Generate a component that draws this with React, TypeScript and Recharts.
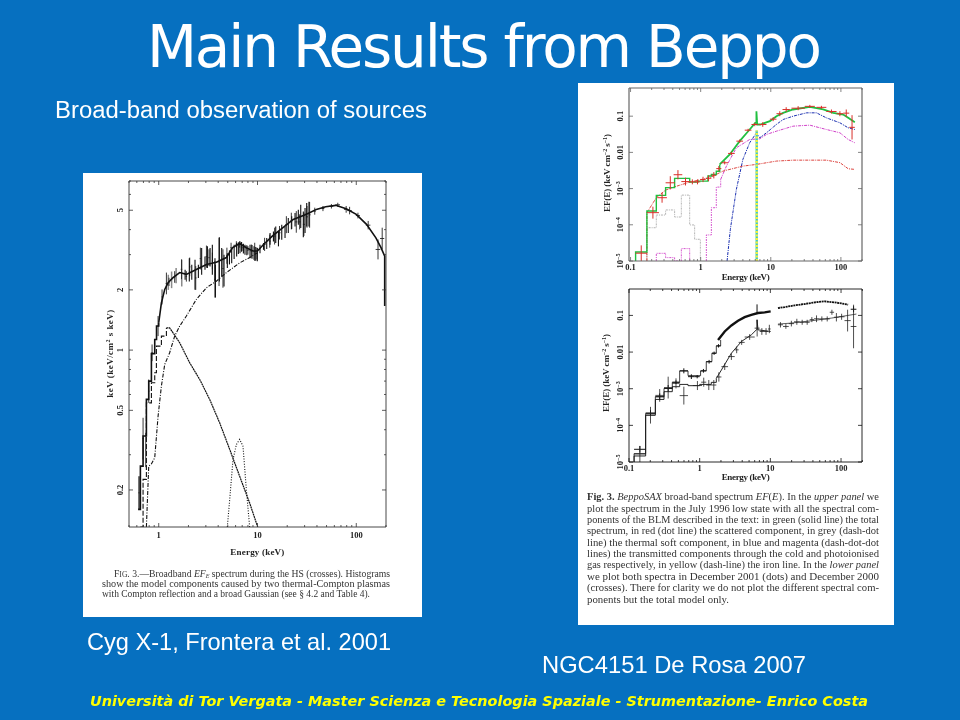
import React from 'react';
import { ComposedChart, Line, Scatter, XAxis, YAxis, ErrorBar } from 'recharts';

// ---- Cyg X-1 (Frontera et al. 2001) ----
const CYG_X_TICKS = [0.5, 0.6, 0.7, 0.8, 0.9, 1, 2, 3, 4, 5, 6, 7, 8, 9, 10, 20, 30, 40, 50, 60, 70, 80, 90, 100, 200];
const CYG_X_MAJOR = [1, 10, 100];
const CYG_Y_TICKS = [0.2, 0.3, 0.4, 0.5, 0.6, 0.7, 0.8, 0.9, 1, 2, 3, 4, 5, 6, 7];
const CYG_Y_MAJOR = [0.2, 0.5, 1, 2, 5];

const cygHistE = [0.618, 0.652, 0.694, 0.75, 0.792, 0.843, 0.911, 0.95, 1.0];
const cygHistF = [0.16, 0.263, 0.372, 0.567, 0.7, 0.96, 1.13, 1.32, 1.37];
const cygTotalE = [1.0, 1.064, 1.15, 1.243, 1.396, 1.63, 1.905, 2.4, 3.04, 3.83, 4.84, 5.6, 6.6, 7.7, 9.0, 10, 11.5, 14.2, 18.1, 23, 30, 33.7, 39.4, 49, 62, 79, 100, 127, 158, 178, 194, 194];
const cygTotalF = [1.37, 1.72, 2.01, 2.17, 2.3, 2.44, 2.39, 2.53, 2.68, 2.75, 2.9, 3.25, 3.41, 3.25, 3.13, 3.13, 3.37, 3.72, 4.09, 4.5, 4.73, 4.86, 5.05, 5.21, 5.29, 5.09, 4.77, 4.25, 3.64, 3.25, 2.95, 1.66];
const cygCompE = [0.75, 0.792, 0.843, 0.911, 0.985, 1.064, 1.15, 1.29, 1.45, 1.63, 1.905, 2.4, 3.04, 3.83, 4.84, 6.6, 8.33, 10];
const cygCompF = [0.1306, 0.263, 0.27, 0.29, 0.468, 0.661, 0.848, 0.97, 1.175, 1.318, 1.48, 1.79, 2.05, 2.21, 2.44, 2.73, 2.9, 3.07];
const cygSoftHistE = [0.652, 0.694, 0.75, 0.843, 0.911, 0.947, 1.064, 1.196];
const cygSoftHistF = [0.1306, 0.226, 0.545, 0.687, 0.77, 1.047, 1.175, 1.29];
const cygSoftE = [1.196, 1.29, 1.396, 1.63, 2.06, 2.6, 3.28, 4.14, 5.23, 6.6, 8.33, 10.05];
const cygSoftF = [1.29, 1.29, 1.22, 1.088, 0.864, 0.713, 0.567, 0.433, 0.319, 0.234, 0.172, 0.1306];
const cygLineE = [4.95, 5.23, 5.65, 6.11, 6.6, 7.13, 7.71, 8.33];
const cygLineF = [0.1306, 0.179, 0.284, 0.337, 0.358, 0.331, 0.201, 0.1306];

const hsEnergy = [0.632, 0.694, 0.739, 0.792, 0.856, 0.985, 1.08, 1.196, 1.27, 1.45, 1.7, 1.905, 2.06, 2.37, 2.64, 3.04, 3.23, 3.49, 3.71, 4.08, 4.47, 4.9, 5.4, 6.11, 6.6, 7.13, 8.0, 8.66, 9.37, 9.88, 11.8, 13.3, 14.9, 16.7, 19.6, 22.0, 24.7, 26.7, 29.5, 31.7, 33.7, 38, 46, 56, 65, 79, 85.6, 104, 132, 166, 183];
const hsHalfWidth = [0.01, 0.01, 0.012, 0.012, 0.014, 0.015, 0.017, 0.02, 0.02, 0.025, 0.03, 0.03, 0.035, 0.04, 0.04, 0.05, 0.05, 0.05, 0.06, 0.06, 0.07, 0.08, 0.08, 0.1, 0.1, 0.12, 0.12, 0.14, 0.15, 0.15, 0.3, 0.3, 0.35, 0.4, 0.5, 0.5, 0.6, 0.6, 0.7, 0.8, 0.8, 1, 1.5, 2.5, 3.5, 4, 4.5, 5, 7, 9, 9];
const hsLow = [0.16, 0.284, 0.26, 0.545, 0.881, 1.175, 1.69, 1.9, 2.09, 2.17, 2.26, 2.2, 2.34, 2.0, 2.53, 2.58, 2.63, 2.53, 1.83, 2.09, 2.05, 2.7, 3.07, 3.25, 3.25, 3.13, 3.0, 2.9, 2.79, 2.84, 3.13, 3.25, 3.37, 3.57, 3.84, 4.01, 3.86, 4.01, 3.72, 4.09, 4.09, 4.75, 4.95, 5.1, 5.2, 4.86, 4.77, 4.55, 4.01, 2.84, 3.19];
const hsHigh = [0.234, 0.459, 0.386, 0.713, 1.067, 1.48, 2.01, 2.44, 2.3, 2.48, 2.84, 2.48, 2.9, 2.63, 3.25, 3.33, 3.19, 3.07, 2.79, 3.64, 3.19, 3.25, 3.44, 3.5, 3.5, 3.37, 3.31, 3.37, 3.44, 3.25, 3.64, 3.78, 4.09, 4.17, 4.67, 4.86, 4.95, 4.77, 4.86, 5.25, 5.5, 5.15, 5.25, 5.37, 5.45, 5.25, 5.2, 4.86, 4.42, 3.57, 4.09];

// 저에너지 쪽 회색으로 번진 막대
const greyEnergy = [0.632, 1.25, 1.35, 1.5, 1.71];
const greyLow = [0.16, 2.0, 2.04, 2.16, 2.08];
const greyHigh = [0.234, 2.38, 2.47, 2.57, 2.83];

// 2–35 keV 빽빽한 구간
const denseEnergy = [1.85, 2.04, 2.16, 2.33, 2.52, 2.72, 2.94, 3.11, 3.31, 3.49, 3.71, 3.75, 4.11, 4.34, 4.58, 4.95, 5.2, 5.48, 5.8, 6.15, 6.4, 6.65, 6.9, 7.2, 7.47, 7.8, 8.4, 8.8, 9.22, 9.6, 9.96, 10.6, 11.5, 12.4, 13.4, 14.5, 15.3, 16.3, 17.6, 19, 20.5, 22.2, 24, 25.9, 27.4, 29.1, 30.3, 31.5, 33.2];
const denseLow = [2.25, 2.2, 2.25, 2.0, 2.29, 2.38, 2.52, 2.57, 2.62, 2.38, 2.2, 1.83, 2.2, 2.34, 2.08, 2.57, 2.68, 2.72, 2.85, 2.94, 3.02, 3.05, 3.1, 3.04, 3.0, 2.98, 2.88, 2.86, 2.83, 2.8, 2.78, 3.05, 3.17, 3.2, 3.36, 3.49, 3.43, 3.3, 3.56, 3.63, 3.85, 4.03, 4.15, 4.23, 4.07, 3.66, 3.85, 4.15, 4.15];
const denseHigh = [2.52, 2.88, 2.67, 2.83, 2.67, 3.24, 2.94, 3.3, 3.24, 3.36, 2.88, 2.67, 3.66, 3.24, 3.0, 3.05, 3.15, 3.24, 3.36, 3.43, 3.46, 3.49, 3.47, 3.4, 3.36, 3.34, 3.36, 3.35, 3.3, 3.28, 3.24, 3.36, 3.43, 3.63, 3.85, 3.92, 4.15, 3.92, 4.23, 4.15, 4.57, 4.66, 4.84, 5.03, 5.33, 4.93, 5.13, 5.43, 5.52];

// ---- NGC4151 (De Rosa 2007) ----
const NGC_X_TICKS = [0.1, 0.2, 0.3, 0.4, 0.5, 0.6, 0.7, 0.8, 0.9, 1, 2, 3, 4, 5, 6, 7, 8, 9, 10, 20, 30, 40, 50, 60, 70, 80, 90, 100, 200];
const NGC_X_MAJOR = [0.1, 1, 10, 100];
const NGC_Y_TICKS = [1e-5, 1e-4, 1e-3, 0.01, 0.1];

const totalLowE = [0.118, 0.118, 0.171, 0.233, 0.316, 0.425, 0.53, 0.697, 0.916, 1.27, 1.42, 1.67, 1.87];
const totalLowF = [1e-5, 1.78e-5, 2.4e-4, 6.5e-4, 1.06e-3, 1.91e-3, 1.91e-3, 1.51e-3, 1.61e-3, 2.22e-3, 2.46e-3, 3.0e-3, 4.65e-3];
const totalHighE = [1.87, 2.6, 3.6, 5.0, 6.0, 6.24, 6.24, 6.4, 7.1, 9.7, 12.05, 15, 20.8, 36, 56, 77.6, 108, 127, 158];
const totalHighF = [4.65e-3, 8.77e-3, 0.0205, 0.0429, 0.0655, 0.0655, 0.137, 0.0589, 0.0589, 0.0728, 0.1, 0.1236, 0.153, 0.181, 0.153, 0.1236, 0.111, 0.09, 0.0684];
const scatteredE = [0.171, 0.171, 0.233, 0.316, 0.425, 0.697, 1.35, 2.08, 4.0, 6.24, 12.05, 20.8, 36, 62, 97, 127, 158];
const scatteredF = [1e-5, 2.16e-4, 5.6e-4, 9.1e-4, 1.12e-3, 1.51e-3, 2e-3, 3.04e-3, 4.18e-3, 4.65e-3, 5.75e-3, 6.1e-3, 6.1e-3, 6.1e-3, 5.2e-3, 3.53e-3, 3.39e-3];
const softE = [0.171, 0.171, 0.233, 0.316, 0.425, 0.53, 0.697, 0.82, 0.99];
const softF = [1e-5, 8.3e-5, 1.86e-4, 2.57e-4, 1.64e-4, 6.6e-4, 9.9e-5, 3.98e-5, 1e-5];
const magentaLowE = [0.233, 0.233, 0.316, 0.425, 0.53, 0.697];
const magentaLowF = [1e-5, 1.63e-5, 1.24e-5, 1e-5, 2.2e-5, 1e-5];
const magentaHistE = [1.205, 1.205, 1.42, 1.67, 1.93];
const magentaHistF = [1e-5, 5.25e-5, 2.96e-4, 1.1e-3, 1.8e-3];
const magentaE = [1.93, 2.33, 3.23, 5, 6.96, 8.67, 12.05, 20.8, 36, 62, 97, 127, 158];
const magentaF = [1.8e-3, 4.18e-3, 0.0134, 0.0227, 0.0237, 0.0313, 0.0385, 0.053, 0.0565, 0.0429, 0.0347, 0.0227, 0.0184];
const blueE = [2.38, 2.65, 3.23, 4, 5, 6.24, 6.96, 8.67, 12, 15, 20.8, 32.4, 44.9, 62, 97, 127, 158];
const blueF = [1e-5, 7.5e-5, 9.5e-4, 6.4e-3, 0.0184, 0.0347, 0.0253, 0.0347, 0.0589, 0.0809, 0.1, 0.1236, 0.1236, 0.09, 0.0655, 0.0477, 0.0429];
const ironE = [6.3, 6.3];
const ironF = [1e-5, 0.04];

const jul96ELow = [0.118, 0.171, 0.24, 0.316, 0.411, 0.53, 0.681, 0.82, 0.989, 1.18, 1.42, 1.67, 1.97, 2.46, 3.23, 4.25, 5.3, 6.81, 9.7, 12.05, 14.7, 19.7, 30.6, 44.9, 62, 86.7, 108, 131.6];
const jul96EHigh = [0.171, 0.254, 0.33, 0.43, 0.547, 0.697, 0.849, 0.989, 1.18, 1.42, 1.67, 1.97, 2.46, 3.06, 4.02, 5.3, 6.59, 8.67, 12.05, 15, 18.7, 30.6, 42.5, 62, 86.7, 108, 131.6, 158];
const jul96FLow = [1e-5, 1.48e-4, 4.07e-4, 9.5e-4, 1.8e-3, 1.22e-3, 1.31e-3, 1.31e-3, 1.51e-3, 1.61e-3, 1.91e-3, 3.04e-3, 4.65e-3, 8.4e-3, 0.0184, 0.0377, 0.053, 0.0508, 0.0728, 0.1, 0.1315, 0.146, 0.17, 0.159, 0.1185, 0.1, 0.096, 0.0227];
const jul96FHigh = [2.7e-5, 3.16e-4, 7.7e-4, 2.2e-3, 3.24e-3, 2e-3, 1.8e-3, 1.8e-3, 2.12e-3, 2.31e-3, 2.86e-3, 4.18e-3, 5.75e-3, 0.0104, 0.0227, 0.0448, 0.0655, 0.0684, 0.0938, 0.137, 0.177, 0.189, 0.205, 0.193, 0.153, 0.137, 0.153, 0.1066];

const upperModelE = [0.118, 0.118, 0.172, 0.236, 0.313, 0.41, 0.521, 0.684, 1.03, 1.24, 1.49, 1.72, 1.98];
const upperModelF = [1e-5, 1.69e-5, 2.11e-4, 6.04e-4, 1.02e-3, 1.49e-3, 3.05e-3, 2.27e-3, 3.05e-3, 5.5e-3, 9.3e-3, 0.01475, 0.0215];
const lowerHistE = [0.118, 0.118, 0.172, 0.236, 0.313, 0.41, 0.521, 0.684, 1, 1.46, 1.72];
const lowerHistF = [1e-5, 1.46e-5, 1.9e-4, 5.1e-4, 8.3e-4, 1.135e-3, 1.31e-3, 1.21e-3, 1.31e-3, 1.49e-3, 1.92e-3];
const lowerModelE = [1.72, 2.03, 2.81, 3.89, 5.38, 6.34, 6.48, 6.48, 6.69, 10.1];
const lowerModelF = [1.92e-3, 3.24e-3, 9.3e-3, 0.0194, 0.0295, 0.0404, 0.0404, 0.076, 0.0404, 0.0365];
const lowerHighE = [12.8, 19.8, 38, 73, 165];
const lowerHighF = [0.058, 0.0617, 0.0714, 0.0845, 0.109];

const dec01E = [1.82, 2.26, 2.81, 3.49, 4.33, 5.38, 6.69, 8.31, 10.1];
const dec01F = [0.0215, 0.0365, 0.0532, 0.0714, 0.09, 0.104, 0.116, 0.121, 0.129];
const dec01HighE = [12.8, 16, 22.1, 30.6, 42.4, 58.7, 81.3, 101, 126];
const dec01HighF = [0.159, 0.169, 0.188, 0.205, 0.227, 0.242, 0.227, 0.213, 0.196];
const dec01SpikeE = [6.48, 6.48];
const dec01SpikeF = [0.116, 0.2];

const dec01ELow = [0.118, 0.172, 0.236, 0.313, 0.41, 0.521, 0.684, 0.85, 1.03, 1.24, 1.49, 1.72, 137];
const dec01EHigh = [0.172, 0.236, 0.313, 0.41, 0.521, 0.684, 0.85, 1, 1.24, 1.49, 1.72, 1.98, 165];
const dec01FLow = [1.8e-5, 1.82e-4, 4.89e-4, 8.3e-4, 1.34e-3, 2.63e-3, 1.84e-3, 1.92e-3, 2.74e-3, 4.84e-3, 8.4e-3, 0.0133, 0.122];
const dec01FHigh = [2.74e-5, 2.6e-4, 7.45e-4, 1.26e-3, 1.69e-3, 3.6e-3, 2.47e-3, 2.36e-3, 3.46e-3, 6.1e-3, 0.0103, 0.0164, 0.178];

const dec00ELow = [0.118, 0.172, 0.236, 0.313, 0.41, 0.521, 0.8, 1.05, 1.24, 1.46, 1.72, 2.03, 2.52, 3.13, 3.56, 4.33, 5.99, 7.06, 8.14, 9.27, 12.8, 15.1, 18.2, 21.6, 26, 30.6, 36, 41.5, 48.8, 58.7, 69.2, 79.7, 92.8, 112, 137];
const dec00EHigh = [0.172, 0.236, 0.313, 0.41, 0.521, 0.684, 1.08, 1.24, 1.46, 1.72, 2.03, 2.52, 3.13, 3.56, 4.33, 6.0, 7.06, 8.14, 9.27, 10.1, 15.1, 18.2, 21.6, 26, 30.6, 36, 41.5, 48.8, 58.7, 69.2, 79.7, 92.8, 112, 137, 165];
const dec00FLow = [1e-5, 1.12e-4, 4.4e-4, 5.4e-4, 1.02e-3, 3.7e-4, 9.2e-4, 1.135e-3, 9.2e-4, 9.2e-4, 1.56e-3, 3.24e-3, 6.1e-3, 9.3e-3, 0.0157, 0.0215, 0.0266, 0.0295, 0.0295, 0.0328, 0.0469, 0.0431, 0.05, 0.0555, 0.0555, 0.0555, 0.0656, 0.0656, 0.0685, 0.0685, 0.104, 0.0685, 0.076, 0.0365, 0.0127];
const dec00FHigh = [2.74e-5, 3.2e-4, 9.8e-4, 2.13e-3, 1.92e-3, 1.135e-3, 1.62e-3, 2e-3, 1.73e-3, 1.73e-3, 2.8e-3, 4.94e-3, 9.3e-3, 0.0142, 0.0215, 0.0308, 0.076, 0.045, 0.045, 0.0555, 0.0656, 0.058, 0.0714, 0.081, 0.076, 0.076, 0.09, 0.1, 0.094, 0.094, 0.143, 0.116, 0.111, 0.143, 0.196];

// ---- texts ----
const CYG_CAPTION = [
  'show the model components caused by two thermal-Compton plasmas',
  'with Compton reflection and a broad Gaussian (see § 4.2 and Table 4).',
];
const NGC_CAPTION = [
  'plot the spectrum in the July 1996 low state with all the spectral com-',
  'ponents of the BLM described in the text: in green (solid line) the total',
  'spectrum, in red (dot line) the scattered component, in grey (dash-dot',
  'line) the thermal soft component, in blue and magenta (dash-dot-dot',
  'lines) the transmitted components through the cold and photoionised',
];
const NGC_CAPTION_END = [
  '(crosses). There for clarity we do not plot the different spectral com-',
  'ponents but the total model only.',
];

const pts = (xs: number[], ys: number[]) => xs.map((x, i) => ({ x, y: ys[i] }));

// 십자 데이터처럼 에러바 범위만 있는 경우: 중심은 기하평균으로
const crosses = (eLo: number[], eHi: number[], fLo: number[], fHi: number[]) =>
  eLo.map((lo, i) => {
    const x = Math.sqrt(lo * eHi[i]);
    const y = Math.sqrt(fLo[i] * fHi[i]);
    return { x, y, xErr: [x - lo, eHi[i] - x], yErr: [y - fLo[i], fHi[i] - y] };
  });

// y 범위만 읽은 막대
const bars = (es: number[], lo: number[], hi: number[]) =>
  es.map((x, i) => {
    const y = Math.sqrt(lo[i] * hi[i]);
    return { x, y, xErr: [0, 0], yErr: [y - lo[i], hi[i] - y] };
  });

const hsRows = hsEnergy.map((x, i) => {
  const y = Math.sqrt(hsLow[i] * hsHigh[i]);
  return { x, y, xErr: [hsHalfWidth[i], hsHalfWidth[i]], yErr: [y - hsLow[i], hsHigh[i] - y] };
});

const SERIF = '"Liberation Serif", serif';

const supLabels: Record<string, [string, string]> = {
  '0.00001': ['10', '−5'],
  '0.0001': ['10', '−4'],
  '0.001': ['10', '−3'],
};

function LogTick({ x, y, payload, side, majors, labelled, color, off }: any) {
  const major = majors.includes(payload.value);
  const len = major ? 4 : 2;
  const dx = side === 'left' ? len : side === 'right' ? -len : 0;
  const dy = side === 'bottom' ? -len : side === 'top' ? len : 0;
  const sup = supLabels[String(payload.value)] ?? (payload.value === 1e-5 ? ['10', '−5'] : undefined);
  return (
    <g>
      <line x1={x} y1={y} x2={x + dx} y2={y + dy} stroke={color} strokeWidth={0.8} />
      {labelled && major && side === 'bottom' && (
        <text x={x} y={y + off} textAnchor="middle" fontFamily={SERIF} fontWeight="bold" fontSize={8.5} fill="#222">
          {payload.value}
        </text>
      )}
      {labelled && major && side === 'left' && (
        <text
          x={x - off}
          y={y}
          textAnchor="middle"
          fontFamily={SERIF}
          fontWeight="bold"
          fontSize={8.5}
          fill="#222"
          transform={`rotate(-90 ${x - off} ${y})`}
        >
          {sup ? sup[0] : payload.value}
          {sup && (
            <tspan dy={-3} fontSize={6}>
              {sup[1]}
            </tspan>
          )}
        </text>
      )}
    </g>
  );
}

// 네 변 모두 눈금이 있는 로그축 프레임 (폭 0인 축은 그려지지 않아서 1px)
function frame(xDomain: number[], yDomain: number[], xTicks: number[], xMajor: number[], yTicks: number[], yMajor: number[], color: string, width: number, xOff: number, yOff: number) {
  const axisLine = { stroke: color, strokeWidth: width };
  const xProps = { type: 'number' as const, dataKey: 'x', scale: 'log' as const, domain: xDomain, ticks: xTicks, allowDataOverflow: true, interval: 0 as const, height: 1, tickSize: 0, tickMargin: 0, tickLine: false, axisLine };
  const yProps = { type: 'number' as const, dataKey: 'y', scale: 'log' as const, domain: yDomain, ticks: yTicks, allowDataOverflow: true, interval: 0 as const, width: 1, tickSize: 0, tickMargin: 0, tickLine: false, axisLine };
  return [
    <XAxis key="b" {...xProps} tick={(p: any) => <LogTick {...p} side="bottom" majors={xMajor} labelled color={color} off={xOff} />} />,
    <XAxis key="t" {...xProps} xAxisId="top" orientation="top" tick={(p: any) => <LogTick {...p} side="top" majors={xMajor} color={color} />} />,
    <YAxis key="l" {...yProps} tick={(p: any) => <LogTick {...p} side="left" majors={yMajor} labelled color={color} off={yOff} />} />,
    <YAxis key="r" {...yProps} yAxisId="right" orientation="right" tick={(p: any) => <LogTick {...p} side="right" majors={yMajor} color={color} />} />,
  ];
}

function curve(key: string, data: any[], stroke: string, width: number, type: any = 'linear', dash?: string) {
  return (
    <Line
      key={key}
      data={data}
      dataKey="y"
      type={type}
      stroke={stroke}
      strokeWidth={width}
      strokeDasharray={dash}
      dot={false}
      isAnimationActive={false}
    />
  );
}

function crossSet(key: string, data: any[], stroke: string, width = 0.9) {
  return (
    <Scatter key={key} data={data} dataKey="y" shape={() => <g />} isAnimationActive={false}>
      <ErrorBar dataKey="yErr" direction="y" width={0} stroke={stroke} strokeWidth={width} isAnimationActive={false} />
      <ErrorBar dataKey="xErr" direction="x" width={0} stroke={stroke} strokeWidth={width} isAnimationActive={false} />
    </Scatter>
  );
}

function CygChart() {
  return (
    <ComposedChart width={339} height={444} margin={{ left: 45, top: 7, right: 35, bottom: 89 }}>
      {frame([0.5, 200], [0.1306, 7], CYG_X_TICKS, CYG_X_MAJOR, CYG_Y_TICKS, CYG_Y_MAJOR, '#333', 0.9, 11, 6)}
      {curve('comp', pts(cygCompE, cygCompF), '#111', 1.1, 'linear', '4 1.5 1 1.5')}
      {curve('softHist', pts(cygSoftHistE, cygSoftHistF), '#111', 1.1, 'stepAfter', '5 2')}
      {curve('soft', pts(cygSoftE, cygSoftF), '#111', 1.2, 'linear', '2 0.5')}
      {curve('gauss', pts(cygLineE, cygLineF), '#111', 1.1, 'linear', '1 1.6')}
      {crossSet('grey', bars(greyEnergy, greyLow, greyHigh), '#8a8a8a', 1.5)}
      {crossSet('hs', hsRows, '#222', 0.9)}
      {crossSet('dense', bars(denseEnergy, denseLow, denseHigh), '#111', 1.1)}
      {curve('hist', pts(cygHistE, cygHistF), '#111', 1.6, 'stepAfter')}
      {curve('total', pts(cygTotalE, cygTotalF), '#111', 1.6, 'linear')}
    </ComposedChart>
  );
}

function JulyChart() {
  return (
    <ComposedChart width={316} height={205} margin={{ left: 50, top: 4, right: 31, bottom: 26 }}>
      {frame([0.095, 200], [1e-5, 0.6], NGC_X_TICKS, NGC_X_MAJOR, NGC_Y_TICKS, NGC_Y_TICKS, '#666', 1.2, 9, 6)}
      {curve('soft', pts(softE, softF), '#a0a0a0', 0.8, 'stepAfter', '2 1 1 1')}
      {curve('magLow', pts(magentaLowE, magentaLowF), '#d040c8', 0.9, 'stepAfter', '2 1 1 1')}
      {curve('magHist', pts(magentaHistE, magentaHistF), '#d040c8', 0.9, 'stepAfter', '2 1 1 1')}
      {curve('mag', pts(magentaE, magentaF), '#d040c8', 1, 'linear', '3 1 1 1')}
      {curve('blue', pts(blueE, blueF), '#1a2fb0', 1, 'linear', '3 1 1 1')}
      {curve('red', pts(scatteredE, scatteredF), '#d8302a', 0.9, 'linear', '3 1 1 1')}
      {curve('cyan', pts(ironE, ironF), '#40c8c0', 2.4)}
      {curve('iron', pts(ironE, ironF), '#f6f23a', 2.4, 'linear', '2 1.5')}
      {curve('totalLow', pts(totalLowE, totalLowF), '#20c040', 1.4, 'stepAfter')}
      {curve('totalHigh', pts(totalHighE, totalHighF), '#20c040', 1.8)}
      {crossSet('jul', crosses(jul96ELow, jul96EHigh, jul96FLow, jul96FHigh), '#d8302a', 1)}
    </ComposedChart>
  );
}

function DecemberChart() {
  return (
    <ComposedChart width={316} height={205} margin={{ left: 50, top: 3, right: 31, bottom: 27 }}>
      {frame([0.1, 198], [1e-5, 0.526], NGC_X_TICKS, NGC_X_MAJOR, NGC_Y_TICKS, NGC_Y_TICKS, '#111', 0.9, 9, 6)}
      {curve('upper', pts(upperModelE, upperModelF), '#111', 0.8, 'stepAfter')}
      {curve('lowerHist', pts(lowerHistE, lowerHistF), '#111', 0.9, 'stepAfter')}
      {curve('lower', pts(lowerModelE, lowerModelF), '#111', 0.9)}
      {curve('lowerHigh', pts(lowerHighE, lowerHighF), '#333', 0.8)}
      {crossSet('dec01', crosses(dec01ELow, dec01EHigh, dec01FLow, dec01FHigh), '#111', 1)}
      {crossSet('dec00', crosses(dec00ELow, dec00EHigh, dec00FLow, dec00FHigh), '#222', 0.8)}
      {curve('dec01', pts(dec01E, dec01F), '#111', 2.4)}
      {curve('dec01High', pts(dec01HighE, dec01HighF), '#111', 1.8, 'linear', '2 0.6')}
      {curve('spike', pts(dec01SpikeE, dec01SpikeF), '#111', 1)}
    </ComposedChart>
  );
}

const place = (left: number, top: number): React.CSSProperties => ({ position: 'absolute', left, top, filter: 'blur(0.3px)' });

function Overlay() {
  const label = { fontFamily: SERIF, fontWeight: 'bold' as const, fontSize: 9, fill: '#222', textAnchor: 'middle' as const };
  const cap = { fontFamily: SERIF, fontSize: 9.6, fill: '#333', lengthAdjust: 'spacingAndGlyphs' as const };
  const slide = { fontFamily: '"Liberation Sans", sans-serif', fill: '#fff', lengthAdjust: 'spacingAndGlyphs' as const };
  return (
    <svg width={960} height={720} style={{ position: 'absolute', left: 0, top: 0, filter: 'blur(0.25px)' }}>
      {/* 축 제목 */}
      <text x={257.3} y={555} {...label} textLength={54}>Energy (keV)</text>
      <text {...label} transform="translate(113 353.7) rotate(-90)" textLength={88}>
        keV (keV/cm<tspan dy={-3} fontSize={6}>2</tspan><tspan dy={3}> s keV)</tspan>
      </text>
      <text x={745.7} y={280} {...label} textLength={48}>Energy (keV)</text>
      <text {...label} transform="translate(610 173) rotate(-90)" textLength={78}>
        EF(E) (keV cm<tspan dy={-3} fontSize={6}>−2</tspan><tspan dy={3}> s</tspan><tspan dy={-3} fontSize={6}>−1</tspan><tspan dy={3}>)</tspan>
      </text>
      <text x={745.7} y={480} {...label} textLength={48}>Energy (keV)</text>
      <text {...label} transform="translate(609 373) rotate(-90)" textLength={78}>
        EF(E) (keV cm<tspan dy={-3} fontSize={6}>−2</tspan><tspan dy={3}> s</tspan><tspan dy={-3} fontSize={6}>−1</tspan><tspan dy={3}>)</tspan>
      </text>

      {/* 그림 설명 */}
      <text x={114} y={576.5} {...cap} textLength={276}>
        F<tspan fontSize={7.5}>IG</tspan>. 3.—Broadband <tspan fontStyle="italic">EF</tspan><tspan dy={1} fontSize={6} fontStyle="italic">E</tspan><tspan dy={-1}> spectrum during the HS (crosses). Histograms</tspan>
      </text>
      <text x={102} y={587} {...cap} textLength={288}>{CYG_CAPTION[0]}</text>
      <text x={102} y={597} {...cap} textLength={268}>{CYG_CAPTION[1]}</text>

      <text x={587} y={500} {...cap} textLength={292}>
        <tspan fontWeight="bold">Fig. 3.</tspan> <tspan fontStyle="italic">BeppoSAX</tspan> broad-band spectrum <tspan fontStyle="italic">EF</tspan>(<tspan fontStyle="italic">E</tspan>). In the <tspan fontStyle="italic">upper panel</tspan> we
      </text>
      {NGC_CAPTION.map((t, i) => (
        <text key={t} x={587} y={511.5 + i * 11.35} {...cap} textLength={292}>{t}</text>
      ))}
      <text x={587} y={568.3} {...cap} textLength={292}>gas respectively, in yellow (dash-line) the iron line. In the <tspan fontStyle="italic">lower panel</tspan></text>
      <text x={587} y={579.7} {...cap} textLength={292}>we plot both spectra in December 2001 (dots) and December 2000</text>
      <text x={587} y={591} {...cap} textLength={292}>{NGC_CAPTION_END[0]}</text>
      <text x={587} y={602.7} {...cap} textLength={142}>{NGC_CAPTION_END[1]}</text>

      {/* 슬라이드 글자 */}
      <text x={147} y={67} fontFamily='"DejaVu Sans", sans-serif' fontSize={58} fill="#fff" textLength={675}>Main Results from Beppo</text>
      <text x={55} y={118} {...slide} fontSize={23.5} textLength={372}>Broad-band observation of sources</text>
      <text x={87} y={650} {...slide} fontSize={24} textLength={304}>Cyg X-1, Frontera et al. 2001</text>
      <text x={542} y={673} {...slide} fontSize={24} textLength={264}>NGC4151 De Rosa 2007</text>
      <text x={90} y={706} fontFamily='"DejaVu Sans", sans-serif' fontWeight="bold" fontStyle="italic" fontSize={13.5} fill="#ffff00" lengthAdjust="spacingAndGlyphs" textLength={778}>
        Università di Tor Vergata - Master Scienza e Tecnologia Spaziale - Strumentazione- Enrico Costa
      </text>
    </svg>
  );
}

export default function App() {
  return (
    <div style={{ position: 'absolute', left: 0, top: 0, width: 960, height: 720, background: '#0670c0', overflow: 'hidden' }}>
      <div style={{ position: 'absolute', left: 83, top: 173, width: 339, height: 444, background: '#fff' }} />
      <div style={{ position: 'absolute', left: 578, top: 83, width: 316, height: 542, background: '#fff' }} />
      <div style={place(83, 173)}><CygChart /></div>
      <div style={place(578, 83)}><JulyChart /></div>
      <div style={place(578, 285)}><DecemberChart /></div>
      <Overlay />
    </div>
  );
}
